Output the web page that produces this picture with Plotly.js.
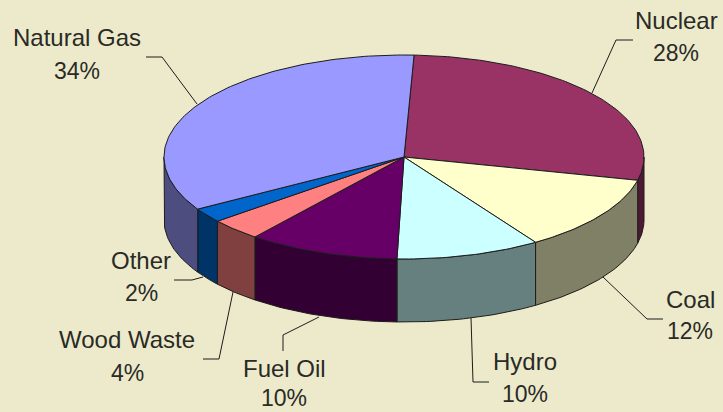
<!DOCTYPE html>
<html>
<head>
<meta charset="utf-8">
<script src="https://cdn.plot.ly/plotly-3.0.1.min.js"></script>
<style>html,body{margin:0;padding:0;background:#ECEACB}#c{width:723px;height:412px}</style>
</head>
<body>
<div id="c"></div>
<script>
// Data
const categories = ['Nuclear', 'Coal', 'Hydro', 'Fuel Oil', 'Wood Waste', 'Other', 'Natural Gas'];
const shares = [28, 12.1, 9.7, 10.2, 3.5, 2.3, 34.2];
// Styles
const topColors = ['#993366', '#FFFFCC', '#CCFFFF', '#660066', '#FF8080', '#0066CC', '#9999FF'];
const wallColors = ['#4D1A33', '#808066', '#668080', '#330033', '#804040', '#003366', '#4D4D80'];
const bg = '#ECEACB';
const ink = '#1C1C1C';
// Geometry of the tilted disc
const cx = 404, cy = 157, rx = 240, ry = 102, depth = 63, startDeg = 2.4;

const total = shares.reduce((a, b) => a + b, 0);
const px = t => cx + rx * Math.sin(t * Math.PI / 180);
const py = t => cy - ry * Math.cos(t * Math.PI / 180);
function arc(a, b) {
  const out = [];
  const n = Math.max(2, Math.ceil(Math.abs(b - a)));
  for (let i = 0; i <= n; i++) out.push(a + (b - a) * i / n);
  return out;
}
const spans = [];
let acc = startDeg;
shares.forEach(v => { const s = v / total * 360; spans.push([acc, acc + s]); acc += s; });

const traces = [];
function poly(xs, ys, color) {
  traces.push({x: xs, y: ys, mode: 'lines', fill: 'toself', fillcolor: color,
    line: {color: ink, width: 1}, hoverinfo: 'skip', showlegend: false});
}
// walls: only the front half of the rim is visible
spans.forEach((s, i) => {
  const a = Math.max(s[0], 90), b = Math.min(s[1], 270);
  if (b <= a) return;
  const ts = arc(a, b);
  const rev = ts.slice().reverse();
  poly(ts.map(px).concat(rev.map(px), [px(a)]),
       ts.map(py).concat(rev.map(t => py(t) + depth), [py(a)]),
       wallColors[i]);
});
// top faces
spans.forEach((s, i) => {
  const ts = arc(s[0], s[1]);
  poly([cx].concat(ts.map(px), [cx]), [cy].concat(ts.map(py), [cy]), topColors[i]);
});

// Label placement: [name x, name y, percent y]
const labelPos = [[676, 20, 53], [690, 299, 331], [525, 361, 394], [284, 368, 398],
                  [127, 339, 373], [141, 260, 293], [77, 37, 71]];
// Leader lines as SVG paths in pixel space of the hidden axes
const leaders = ['M633,40 L616,40 L592,93', 'M603,277 L647,319 L663,319', 'M471,318 L473,382 L489,382',
                 'M319,317 L283,335 L283,351', 'M233,292 L219,359 L203,359', 'M203,277 L192,280 L174,280',
                 'M146,57 L162,57 L197,104'];

const nameFont = {family: 'Liberation Sans, Arial, sans-serif', size: 24, color: '#2A2A26'};
const pctFont = {family: 'Liberation Sans, Arial, sans-serif', size: 23, color: '#2A2A26'};
const annotations = [];
categories.forEach((c, i) => {
  const p = labelPos[i];
  annotations.push({x: p[0], y: p[1], text: c, showarrow: false, xanchor: 'center', yanchor: 'middle', font: nameFont});
  annotations.push({x: p[0], y: p[2], text: Math.round(shares[i]) + '%', showarrow: false, xanchor: 'center', yanchor: 'middle', font: pctFont});
});

const layout = {
  width: 723, height: 412,
  margin: {l: 0, r: 0, t: 0, b: 0},
  paper_bgcolor: bg, plot_bgcolor: bg,
  showlegend: false, hovermode: false,
  xaxis: {range: [0, 723], visible: false, fixedrange: true},
  yaxis: {range: [412, 0], visible: false, fixedrange: true},
  annotations,
  shapes: leaders.map(path => ({type: 'path', xref: 'x', yref: 'y', path, line: {color: ink, width: 1}}))
};
Plotly.newPlot('c', traces, layout, {displayModeBar: false, staticPlot: true});
</script>
</body>
</html>
